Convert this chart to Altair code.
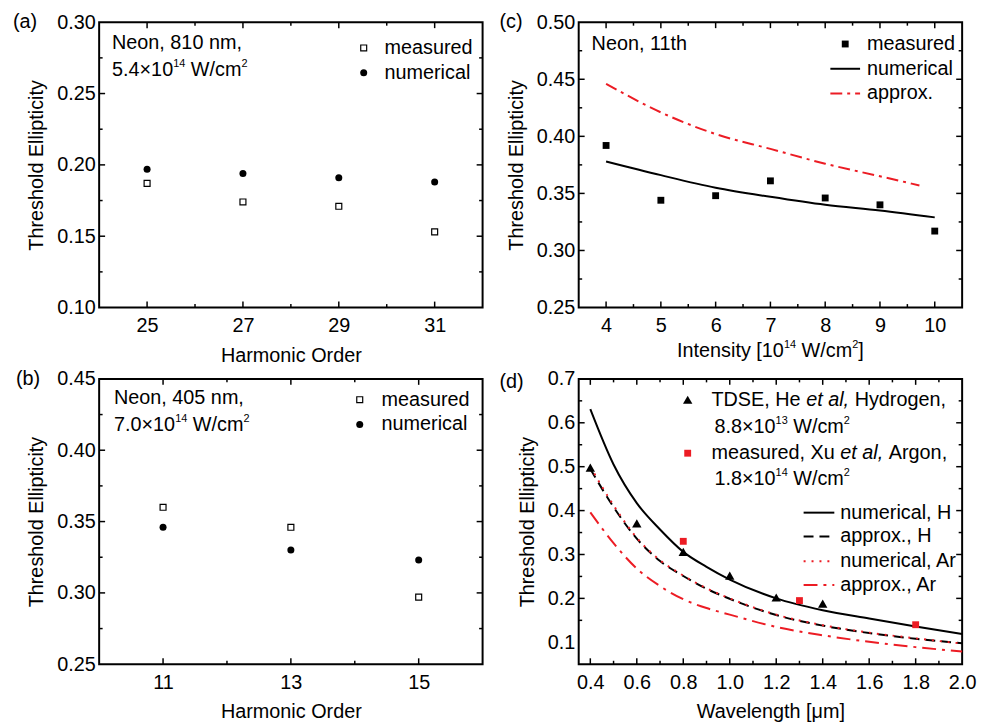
import altair as alt
import pandas as pd

FONT = "Liberation Sans"
RED = "#ec1c24"
PW, PH = 387, 288
FS = 20

# ---------------- data ----------------
# (a) Neon, 810 nm
a_order = [25, 27, 29, 31]
a_measured = [0.187, 0.174, 0.171, 0.153]
a_numerical = [0.197, 0.194, 0.191, 0.188]

# (b) Neon, 405 nm
b_order = [11, 13, 15]
b_measured = [0.360, 0.346, 0.297]
b_numerical = [0.346, 0.330, 0.323]

# (c) Neon, 11th harmonic vs intensity
c_intensity = [4, 5, 6, 7, 8, 9, 10]
c_measured = [0.392, 0.344, 0.348, 0.361, 0.346, 0.340, 0.317]
c_num_intensity = [4, 5, 6, 7, 8, 9, 10]
c_numerical = [0.378, 0.366, 0.355, 0.347, 0.340, 0.335, 0.329]
c_app_intensity = [4, 5, 6, 7, 8, 9, 9.72]
c_approx = [0.446, 0.421, 0.402, 0.389, 0.376, 0.365, 0.357]

# (d) wavelength scan
d_tdse_wl = [0.4, 0.6, 0.8, 1.0, 1.2, 1.4]
d_tdse = [0.498, 0.371, 0.306, 0.252, 0.202, 0.188]
d_meas_wl = [0.8, 1.3, 1.8]
d_meas = [0.330, 0.195, 0.140]
d_wl = [0.4, 0.5, 0.6, 0.7, 0.8, 0.9, 1.0, 1.2, 1.4, 1.6, 1.8, 2.0]
d_num_h = [0.631, 0.505, 0.417, 0.357, 0.306, 0.272, 0.243, 0.200, 0.173, 0.154, 0.136, 0.119]
d_app_h = [0.495, 0.408, 0.336, 0.285, 0.251, 0.222, 0.199, 0.162, 0.138, 0.121, 0.108, 0.098]
d_num_ar = [0.500, 0.412, 0.338, 0.287, 0.252, 0.223, 0.200, 0.163, 0.139, 0.122, 0.109, 0.097]
d_app_ar = [0.396, 0.326, 0.268, 0.228, 0.198, 0.178, 0.163, 0.135, 0.116, 0.101, 0.089, 0.079]

# axis ticks / labels
a_x_labels = [25, 27, 29, 31]; a_x_minor = [26, 28, 30]
a_y_labels = [0.10, 0.15, 0.20, 0.25, 0.30]; a_y_minor = [0.125, 0.175, 0.225, 0.275]
b_x_labels = [11, 13, 15]; b_x_minor = [12, 14]
b_y_labels = [0.25, 0.30, 0.35, 0.40, 0.45]; b_y_minor = [0.275, 0.325, 0.375, 0.425]
c_x_labels = [4, 5, 6, 7, 8, 9, 10]; c_x_minor = [4.5, 5.5, 6.5, 7.5, 8.5, 9.5]
c_y_labels = [0.25, 0.30, 0.35, 0.40, 0.45, 0.50]; c_y_minor = [0.275, 0.325, 0.375, 0.425, 0.475]
d_x_labels = [0.4, 0.6, 0.8, 1.0, 1.2, 1.4, 1.6, 1.8, 2.0]; d_x_minor = [0.5, 0.7, 0.9, 1.1, 1.3, 1.5, 1.7, 1.9]
d_y_labels = [0.1, 0.2, 0.3, 0.4, 0.5, 0.6, 0.7]; d_y_minor = [0.15, 0.25, 0.35, 0.45, 0.55, 0.65]

# ---------------- helpers ----------------
CW = {' ': 278, ',': 278, '.': 278, '/': 278, '×': 584, '[': 278, ']': 278,
      'A': 667, 'D': 722, 'E': 667, 'H': 722, 'I': 278, 'S': 667, 'T': 611, 'W': 944, 'X': 667,
      'a': 556, 'c': 500, 'd': 556, 'e': 556, 'g': 556, 'i': 222, 'l': 222, 'm': 833, 'n': 556,
      'o': 556, 'r': 333, 's': 500, 't': 278, 'u': 556, 'y': 500}


def tw(s, size):
    return sum(CW.get(ch, 556) for ch in s) * size / 1000.0


def seg_size(kind):
    return 11 if kind == 's' else FS


def rich(segs, x0, y0, center=False):
    if center:
        total = sum(tw(t, seg_size(k)) for t, k in segs)
        x0 = x0 - total / 2.0
    layers = []
    x = x0
    for text, kind in segs:
        fs = seg_size(kind)
        lead = text[:len(text) - len(text.lstrip())]
        x += tw(lead, fs)
        body = text.strip()
        layers.append(
            alt.Chart(pd.DataFrame({'t': [body]})).mark_text(
                align='left', baseline='middle', font=FONT, fontSize=fs,
                fontStyle='italic' if kind == 'i' else 'normal', color='black'
            ).encode(text='t:N', x=alt.value(x), y=alt.value(y0 - 6 if kind == 's' else y0))
        )
        x += tw(text.lstrip(), fs)
    return layers


def label(text, x, y, size=FS):
    return alt.Chart(pd.DataFrame({'t': [text]})).mark_text(
        align='left', baseline='middle', font=FONT, fontSize=size, color='black'
    ).encode(text='t:N', x=alt.value(x), y=alt.value(y))


def sym(shape, x, y, size, filled, color='black'):
    return alt.Chart(pd.DataFrame({'t': [0]})).mark_point(
        shape=shape, size=size, filled=filled, color=color, opacity=1,
        strokeWidth=1.2
    ).encode(x=alt.value(x), y=alt.value(y))


def legline(x1, x2, y, color, dash=None):
    kw = dict(color=color, strokeWidth=2)
    if dash:
        kw['strokeDash'] = dash
    return alt.Chart(pd.DataFrame({'t': [0]})).mark_rule(**kw).encode(
        x=alt.value(x1), x2=alt.value(x2), y=alt.value(y))


def tick_layers(xe, ye, x_major, x_minor, y_major, y_minor):
    out = []
    for vals, L in [(y_major, 6), (y_minor, 3.5)]:
        df = pd.DataFrame({'y': vals})
        for xa, xb in [(0, L), (PW, PW - L)]:
            out.append(alt.Chart(df).mark_rule(color='black', strokeWidth=1.5).encode(
                y=ye, x=alt.value(xa), x2=alt.value(xb)))
    for vals, L in [(x_major, 6), (x_minor, 3.5)]:
        df = pd.DataFrame({'x': vals})
        for ya, yb in [(PH, PH - L), (0, L)]:
            out.append(alt.Chart(df).mark_rule(color='black', strokeWidth=1.5).encode(
                x=xe, y=alt.value(ya), y2=alt.value(yb)))
    return out


def inner(vals):
    return vals[1:-1]


YTITLE = "Threshold Ellipticity"

# ---------------- panel (a) ----------------
xs_a = alt.Scale(domain=[24, 32], nice=False, zero=False)
ys_a = alt.Scale(domain=[0.10, 0.30], nice=False, zero=False)
xa = alt.X('x:Q', scale=xs_a, axis=alt.Axis(values=a_x_labels, format='d', title='Harmonic Order'))
ya = alt.Y('y:Q', scale=ys_a, axis=alt.Axis(values=a_y_labels, format='.2f', title=YTITLE))
dfa_m = pd.DataFrame({'x': a_order, 'y': a_measured})
dfa_n = pd.DataFrame({'x': a_order, 'y': a_numerical})
pa = alt.layer(
    alt.Chart(dfa_m).mark_point(shape='square', filled=False, color='black', size=36, strokeWidth=1.2, opacity=1).encode(x=xa, y=ya),
    alt.Chart(dfa_n).mark_point(shape='circle', filled=True, color='black', size=50, opacity=1).encode(x=xa, y=ya),
    *tick_layers(xa, ya, a_x_labels, a_x_minor, inner(a_y_labels), a_y_minor),
    label("(a)", -87, 0),
    label("Neon, 810 nm,", 13, 21),
    *rich([("5.4×10", 'n'), ("14", 's'), (" W/cm", 'n'), ("2", 's')], 13, 48),
    sym('square', 267, 26, 36, False), label("measured", 288, 26),
    sym('circle', 267, 51, 50, True), label("numerical", 288, 51),
).properties(width=PW, height=PH)

# ---------------- panel (b) ----------------
xs_b = alt.Scale(domain=[10, 16], nice=False, zero=False)
ys_b = alt.Scale(domain=[0.25, 0.45], nice=False, zero=False)
xb = alt.X('x:Q', scale=xs_b, axis=alt.Axis(values=b_x_labels, format='d', title='Harmonic Order'))
yb = alt.Y('y:Q', scale=ys_b, axis=alt.Axis(values=b_y_labels, format='.2f', title=YTITLE))
dfb_m = pd.DataFrame({'x': b_order, 'y': b_measured})
dfb_n = pd.DataFrame({'x': b_order, 'y': b_numerical})
pb = alt.layer(
    alt.Chart(dfb_m).mark_point(shape='square', filled=False, color='black', size=36, strokeWidth=1.2, opacity=1).encode(x=xb, y=yb),
    alt.Chart(dfb_n).mark_point(shape='circle', filled=True, color='black', size=50, opacity=1).encode(x=xb, y=yb),
    *tick_layers(xb, yb, b_x_labels, b_x_minor, inner(b_y_labels), b_y_minor),
    label("(b)", -84, 0),
    label("Neon, 405 nm,", 15, 19),
    *rich([("7.0×10", 'n'), ("14", 's'), (" W/cm", 'n'), ("2", 's')], 15, 47),
    sym('square', 263, 21, 36, False), label("measured", 285, 21),
    sym('circle', 263, 46, 50, True), label("numerical", 285, 46),
).properties(width=PW, height=PH)

# ---------------- panel (c) ----------------
xs_c = alt.Scale(domain=[3.5, 10.5], nice=False, zero=False)
ys_c = alt.Scale(domain=[0.25, 0.50], nice=False, zero=False)
xc = alt.X('x:Q', scale=xs_c, axis=alt.Axis(values=c_x_labels, format='d', title=None))
yc = alt.Y('y:Q', scale=ys_c, axis=alt.Axis(values=c_y_labels, format='.2f', title=YTITLE))
dfc_m = pd.DataFrame({'x': c_intensity, 'y': c_measured})
dfc_n = pd.DataFrame({'x': c_num_intensity, 'y': c_numerical})
dfc_a = pd.DataFrame({'x': c_app_intensity, 'y': c_approx})
pc = alt.layer(
    alt.Chart(dfc_n).mark_line(color='black', strokeWidth=2, interpolate='monotone').encode(x=xc, y=yc),
    alt.Chart(dfc_a).mark_line(color=RED, strokeWidth=2, strokeDash=[12, 5, 3, 5], interpolate='monotone').encode(x=xc, y=yc),
    alt.Chart(dfc_m).mark_point(shape='square', filled=True, color='black', size=48, opacity=1).encode(x=xc, y=yc),
    *tick_layers(xc, yc, c_x_labels, c_x_minor, inner(c_y_labels), c_y_minor),
    label("(c)", -80, 0),
    label("Neon, 11th", 13, 22),
    sym('square', 269, 22, 48, True), label("measured", 291, 22),
    legline(254, 284, 47, 'black'), label("numerical", 291, 47),
    legline(254, 284, 72, RED, [12, 5, 3, 5]), label("approx.", 291, 72),
    *rich([("Intensity [10", 'n'), ("14", 's'), (" W/cm", 'n'), ("2", 's'), ("]", 'n')], PW / 2, PH + 44, center=True),
).properties(width=PW, height=PH)

# ---------------- panel (d) ----------------
xs_d = alt.Scale(domain=[0.35, 2.0], nice=False, zero=False)
ys_d = alt.Scale(domain=[0.05, 0.70], nice=False, zero=False)
xd = alt.X('x:Q', scale=xs_d, axis=alt.Axis(values=d_x_labels, format='.1f', title='Wavelength [μm]'))
yd = alt.Y('y:Q', scale=ys_d, axis=alt.Axis(values=d_y_labels, format='.1f', title=YTITLE))


def dline(vals, color, dash=None):
    kw = dict(color=color, strokeWidth=2, interpolate='monotone')
    if dash:
        kw['strokeDash'] = dash
    return alt.Chart(pd.DataFrame({'x': d_wl, 'y': vals})).mark_line(**kw).encode(x=xd, y=yd)


pdd = alt.layer(
    dline(d_num_h, 'black'),
    dline(d_app_h, 'black', [10, 6]),
    dline(d_num_ar, RED, [2, 6]),
    dline(d_app_ar, RED, [14, 6, 3, 6]),
    alt.Chart(pd.DataFrame({'x': d_tdse_wl, 'y': d_tdse})).mark_point(shape='triangle-up', filled=True, color='black', size=90, opacity=1).encode(x=xd, y=yd),
    alt.Chart(pd.DataFrame({'x': d_meas_wl, 'y': d_meas})).mark_point(shape='square', filled=True, color=RED, size=48, opacity=1).encode(x=xd, y=yd),
    *tick_layers(xd, yd, inner(d_x_labels) + [0.4], d_x_minor, inner(d_y_labels), d_y_minor),
    label("(d)", -80, 3),
    sym('triangle-up', 110, 21, 90, True),
    *rich([("TDSE, He ", 'n'), ("et al,", 'i'), (" Hydrogen,", 'n')], 134, 21),
    *rich([("8.8×10", 'n'), ("13", 's'), (" W/cm", 'n'), ("2", 's')], 137, 49),
    sym('square', 110, 75, 48, True, RED),
    *rich([("measured, Xu ", 'n'), ("et al,", 'i'), (" Argon,", 'n')], 134, 75),
    *rich([("1.8×10", 'n'), ("14", 's'), (" W/cm", 'n'), ("2", 's')], 137, 101),
    legline(227, 258, 135, 'black'), label("numerical, H", 264, 135),
    legline(227, 258, 159, 'black', [10, 6]), label("approx., H", 264, 159),
    legline(227, 258, 184, RED, [2, 6]), label("numerical, Ar", 264, 184),
    legline(227, 258, 208, RED, [14, 6, 3, 6]), label("approx., Ar", 264, 208),
).properties(width=PW, height=PH)

chart = alt.concat(
    pa, pc, pb, pdd, columns=2, spacing={"row": 72, "column": 97}, bounds="flush"
).properties(
    padding={"left": 4, "top": 0, "right": 0, "bottom": 0}
).configure_view(
    stroke='black', strokeWidth=2
).configure_axis(
    domain=False, ticks=False, grid=False, labelFlush=False, labelOverlap=False,
    labelFont=FONT, labelFontSize=FS, labelColor='black',
    titleFont=FONT, titleFontSize=FS, titleFontWeight='normal', titleColor='black'
).configure_axisX(
    labelPadding=8, titlePadding=10
).configure_axisY(
    labelPadding=4, titlePadding=10
)

chart.save("out.html", embed_options={"renderer": "svg", "actions": False})
